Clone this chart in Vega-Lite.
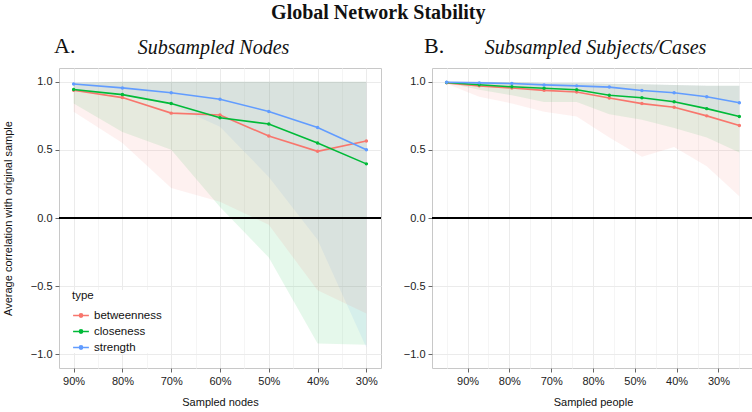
{
  "$schema": "https://vega.github.io/schema/vega-lite/v6.json",
  "padding": {"top": 2, "left": 1, "right": 0, "bottom": 0},
  "background": "white",
  "config": {
    "view": {"stroke": "#C8C8C8", "strokeWidth": 1},
    "axis": {
      "labelFont": "Liberation Sans", "labelFontSize": 11, "labelColor": "#222",
      "titleFont": "Liberation Sans", "titleFontSize": 11, "titleFontWeight": "normal", "titleColor": "#111",
      "tickColor": "#666", "tickSize": 4, "domain": false, "gridColor": "#EBEBEB", "gridWidth": 1, "labelPadding": 3
    },
    "concat": {"spacing": 18}
  },
  "title": {"text": "Global Network Stability", "font": "Liberation Serif", "fontSize": 20, "fontWeight": "bold", "color": "#111", "anchor": "middle", "offset": 12},
  "datasets": {
    "nodes": [
      {"type": "betweenness", "x": 90, "y": 0.937, "lo": 0.78, "hi": 0.99},
      {"type": "betweenness", "x": 80, "y": 0.883, "lo": 0.55, "hi": 1.0},
      {"type": "betweenness", "x": 70, "y": 0.769, "lo": 0.22, "hi": 1.0},
      {"type": "betweenness", "x": 60, "y": 0.755, "lo": 0.12, "hi": 1.0},
      {"type": "betweenness", "x": 50, "y": 0.601, "lo": -0.05, "hi": 1.0},
      {"type": "betweenness", "x": 40, "y": 0.489, "lo": -0.53, "hi": 1.0},
      {"type": "betweenness", "x": 30, "y": 0.565, "lo": -0.70, "hi": 1.0},
      {"type": "closeness", "x": 90, "y": 0.942, "lo": 0.84, "hi": 0.99},
      {"type": "closeness", "x": 80, "y": 0.905, "lo": 0.63, "hi": 1.0},
      {"type": "closeness", "x": 70, "y": 0.839, "lo": 0.50, "hi": 1.0},
      {"type": "closeness", "x": 60, "y": 0.735, "lo": 0.08, "hi": 1.0},
      {"type": "closeness", "x": 50, "y": 0.689, "lo": -0.29, "hi": 1.0},
      {"type": "closeness", "x": 40, "y": 0.550, "lo": -0.92, "hi": 1.0},
      {"type": "closeness", "x": 30, "y": 0.397, "lo": -0.93, "hi": 1.0},
      {"type": "strength", "x": 90, "y": 0.983, "lo": 0.93, "hi": 0.995},
      {"type": "strength", "x": 80, "y": 0.954, "lo": 0.90, "hi": 1.0},
      {"type": "strength", "x": 70, "y": 0.918, "lo": 0.83, "hi": 1.0},
      {"type": "strength", "x": 60, "y": 0.871, "lo": 0.67, "hi": 1.0},
      {"type": "strength", "x": 50, "y": 0.781, "lo": 0.30, "hi": 1.0},
      {"type": "strength", "x": 40, "y": 0.664, "lo": -0.16, "hi": 1.0},
      {"type": "strength", "x": 30, "y": 0.501, "lo": -0.95, "hi": 1.0}
    ],
    "people": [
      {"type": "betweenness", "x": 95, "y": 0.991, "lo": 0.985, "hi": 1.0},
      {"type": "betweenness", "x": 87.2, "y": 0.969, "lo": 0.89, "hi": 1.0},
      {"type": "betweenness", "x": 79.4, "y": 0.953, "lo": 0.84, "hi": 0.995},
      {"type": "betweenness", "x": 71.7, "y": 0.936, "lo": 0.78, "hi": 0.99},
      {"type": "betweenness", "x": 63.9, "y": 0.924, "lo": 0.745, "hi": 0.99},
      {"type": "betweenness", "x": 56.1, "y": 0.880, "lo": 0.59, "hi": 0.985},
      {"type": "betweenness", "x": 48.3, "y": 0.839, "lo": 0.45, "hi": 0.98},
      {"type": "betweenness", "x": 40.6, "y": 0.812, "lo": 0.52, "hi": 0.975},
      {"type": "betweenness", "x": 32.8, "y": 0.749, "lo": 0.38, "hi": 0.97},
      {"type": "betweenness", "x": 25, "y": 0.679, "lo": 0.16, "hi": 0.97},
      {"type": "closeness", "x": 95, "y": 0.994, "lo": 0.99, "hi": 1.0},
      {"type": "closeness", "x": 87.2, "y": 0.977, "lo": 0.94, "hi": 1.0},
      {"type": "closeness", "x": 79.4, "y": 0.962, "lo": 0.90, "hi": 0.995},
      {"type": "closeness", "x": 71.7, "y": 0.951, "lo": 0.85, "hi": 0.99},
      {"type": "closeness", "x": 63.9, "y": 0.940, "lo": 0.85, "hi": 0.99},
      {"type": "closeness", "x": 56.1, "y": 0.900, "lo": 0.76, "hi": 0.985},
      {"type": "closeness", "x": 48.3, "y": 0.882, "lo": 0.72, "hi": 0.98},
      {"type": "closeness", "x": 40.6, "y": 0.853, "lo": 0.66, "hi": 0.975},
      {"type": "closeness", "x": 32.8, "y": 0.802, "lo": 0.59, "hi": 0.97},
      {"type": "closeness", "x": 25, "y": 0.744, "lo": 0.48, "hi": 0.97},
      {"type": "strength", "x": 95, "y": 0.996, "lo": 0.995, "hi": 1.0},
      {"type": "strength", "x": 87.2, "y": 0.991, "lo": 0.97, "hi": 1.0},
      {"type": "strength", "x": 79.4, "y": 0.986, "lo": 0.96, "hi": 0.995},
      {"type": "strength", "x": 71.7, "y": 0.976, "lo": 0.94, "hi": 0.99},
      {"type": "strength", "x": 63.9, "y": 0.969, "lo": 0.93, "hi": 0.99},
      {"type": "strength", "x": 56.1, "y": 0.960, "lo": 0.90, "hi": 0.985},
      {"type": "strength", "x": 48.3, "y": 0.935, "lo": 0.87, "hi": 0.98},
      {"type": "strength", "x": 40.6, "y": 0.918, "lo": 0.84, "hi": 0.975},
      {"type": "strength", "x": 32.8, "y": 0.889, "lo": 0.80, "hi": 0.97},
      {"type": "strength", "x": 25, "y": 0.845, "lo": 0.74, "hi": 0.97}
    ]
  },
  "hconcat": [
    {
      "width": 322, "height": 300,
      "title": {"text": "A.", "anchor": "start", "frame": "group", "dx": -5, "offset": -21,
        "font": "Liberation Serif", "fontSize": 22, "fontWeight": "normal", "color": "#111"},
      "data": {"name": "nodes"},
      "resolve": {"axis": {"x": "independent"}},
      "layer": [
        {
          "transform": [{"filter": "datum.type == 'strength'"}],
          "mark": {"type": "area", "fillOpacity": 0.1},
          "encoding": {
            "x": {"field": "x", "type": "quantitative", "scale": {"domain": [27, 93], "reverse": true, "nice": false, "zero": false},
              "axis": {"values": [90, 85, 80, 75, 70, 65, 60, 55, 50, 45, 40, 35, 30], "labelExpr": "datum.value % 10 == 0 ? datum.value + '%' : ''", "labelOverlap": false,
                "tickOpacity": {"condition": {"test": "datum.value % 10 != 0", "value": 0}, "value": 1},
                "gridColor": {"condition": {"test": "datum.value % 10 != 0", "value": "#F5F5F5"}, "value": "#EBEBEB"},
                "title": "Sampled nodes", "titlePadding": 10}},
            "y": {"field": "lo", "type": "quantitative", "scale": {"domain": [-1.1, 1.1], "nice": false, "zero": false},
              "axis": {"values": [-1, -0.75, -0.5, -0.25, 0, 0.25, 0.5, 0.75, 1], "format": ".1f",
                "labelExpr": "abs(datum.value*2-round(datum.value*2)) < 0.01 ? datum.label : ''",
                "tickOpacity": {"condition": {"test": "abs(datum.value*2-round(datum.value*2)) > 0.01", "value": 0}, "value": 1},
                "gridColor": {"condition": {"test": "abs(datum.value*2-round(datum.value*2)) > 0.01", "value": "#F5F5F5"}, "value": "#EBEBEB"},
                "title": "Average correlation with original sample", "titlePadding": 16, "minExtent": 30, "maxExtent": 30}},
            "y2": {"field": "hi"},
            "color": {"field": "type", "type": "nominal", "scale": {"domain": ["betweenness", "closeness", "strength"], "range": ["#F8766D", "#00BA38", "#619CFF"]}}
          }
        },
        {
          "transform": [{"filter": "datum.type == 'closeness'"}],
          "mark": {"type": "area", "fillOpacity": 0.1},
          "encoding": {
            "x": {"field": "x", "type": "quantitative", "scale": {"domain": [27, 93], "reverse": true, "nice": false, "zero": false}, "axis": null},
            "y": {"field": "lo", "type": "quantitative", "scale": {"domain": [-1.1, 1.1], "nice": false, "zero": false}},
            "y2": {"field": "hi"},
            "color": {"field": "type", "type": "nominal", "scale": {"domain": ["betweenness", "closeness", "strength"], "range": ["#F8766D", "#00BA38", "#619CFF"]}}
          }
        },
        {
          "transform": [{"filter": "datum.type == 'betweenness'"}],
          "mark": {"type": "area", "fillOpacity": 0.1},
          "encoding": {
            "x": {"field": "x", "type": "quantitative", "scale": {"domain": [27, 93], "reverse": true, "nice": false, "zero": false}, "axis": null},
            "y": {"field": "lo", "type": "quantitative", "scale": {"domain": [-1.1, 1.1], "nice": false, "zero": false}},
            "y2": {"field": "hi"},
            "color": {"field": "type", "type": "nominal", "scale": {"domain": ["betweenness", "closeness", "strength"], "range": ["#F8766D", "#00BA38", "#619CFF"]}}
          }
        },
        {
          "mark": {"type": "rule", "color": "black", "strokeWidth": 1.2},
          "encoding": {"y": {"datum": 0, "type": "quantitative", "scale": {"domain": [-1.1, 1.1], "nice": false, "zero": false}}}
        },
        {
          "mark": {"type": "line", "strokeWidth": 1.6},
          "encoding": {
            "x": {"field": "x", "type": "quantitative", "scale": {"domain": [27, 93], "reverse": true, "nice": false, "zero": false}, "axis": null},
            "y": {"field": "y", "type": "quantitative", "scale": {"domain": [-1.1, 1.1], "nice": false, "zero": false}},
            "color": {"field": "type", "type": "nominal", "scale": {"domain": ["betweenness", "closeness", "strength"], "range": ["#F8766D", "#00BA38", "#619CFF"]},
              "legend": {"orient": "none", "legendX": 13, "legendY": 222, "title": "type", "titleFont": "Liberation Sans", "titleFontSize": 11.5, "titleFontWeight": "normal", "titleColor": "#111",
                "labelFont": "Liberation Sans", "labelFontSize": 11.5, "labelColor": "#111",
                "symbolType": "M-1,0L1,0M-0.2,0A0.2,0.2 0 1,1 0.2,0A0.2,0.2 0 1,1 -0.2,0", "symbolSize": 250, "symbolStrokeWidth": 1.6, "symbolOpacity": 1, "symbolFillColor": "transparent", "rowPadding": 1, "fillColor": "white"}}
          }
        },
        {
          "mark": {"type": "point", "filled": true, "size": 12, "opacity": 1},
          "encoding": {
            "x": {"field": "x", "type": "quantitative", "scale": {"domain": [27, 93], "reverse": true, "nice": false, "zero": false},
              "axis": {"orient": "top", "labels": false, "ticks": false, "grid": false, "domain": false, "minExtent": 0, "maxExtent": 0,
                "title": "Subsampled Nodes", "titleFont": "Liberation Serif", "titleFontStyle": "italic", "titleFontSize": 20, "titleColor": "#111",
                "titleBaseline": "alphabetic", "titlePadding": 15, "titleX": 154, "titleAlign": "center"}},
            "y": {"field": "y", "type": "quantitative", "scale": {"domain": [-1.1, 1.1], "nice": false, "zero": false}},
            "color": {"field": "type", "type": "nominal", "scale": {"domain": ["betweenness", "closeness", "strength"], "range": ["#F8766D", "#00BA38", "#619CFF"]}}
          }
        }
      ]
    },
    {
      "width": 322, "height": 300,
      "title": {"text": "B.", "anchor": "start", "frame": "group", "dx": -8, "offset": -21,
        "font": "Liberation Serif", "fontSize": 22, "fontWeight": "normal", "color": "#111"},
      "data": {"name": "people"},
      "resolve": {"axis": {"x": "independent"}},
      "layer": [
        {
          "transform": [{"filter": "datum.type == 'strength'"}],
          "mark": {"type": "area", "fillOpacity": 0.1},
          "encoding": {
            "x": {"field": "x", "type": "quantitative", "scale": {"domain": [21.5, 98.5], "reverse": true, "nice": false, "zero": false},
              "axis": {"values": [95, 90, 85, 80, 75, 70, 65, 60, 55, 50, 45, 40, 35, 30, 25], "labelExpr": "datum.value == 60 ? '80%' : (datum.value % 10 == 0 ? datum.value + '%' : '')", "labelOverlap": false,
                "tickOpacity": {"condition": {"test": "datum.value % 10 != 0", "value": 0}, "value": 1},
                "gridColor": {"condition": {"test": "datum.value % 10 != 0", "value": "#F5F5F5"}, "value": "#EBEBEB"},
                "title": "Sampled people", "titlePadding": 10}},
            "y": {"field": "lo", "type": "quantitative", "scale": {"domain": [-1.1, 1.1], "nice": false, "zero": false},
              "axis": {"values": [-1, -0.75, -0.5, -0.25, 0, 0.25, 0.5, 0.75, 1], "format": ".1f",
                "labelExpr": "abs(datum.value*2-round(datum.value*2)) < 0.01 ? datum.label : ''",
                "tickOpacity": {"condition": {"test": "abs(datum.value*2-round(datum.value*2)) > 0.01", "value": 0}, "value": 1},
                "gridColor": {"condition": {"test": "abs(datum.value*2-round(datum.value*2)) > 0.01", "value": "#F5F5F5"}, "value": "#EBEBEB"},
                "title": null, "minExtent": 30, "maxExtent": 30}},
            "y2": {"field": "hi"},
            "color": {"field": "type", "type": "nominal", "scale": {"domain": ["betweenness", "closeness", "strength"], "range": ["#F8766D", "#00BA38", "#619CFF"]}, "legend": null}
          }
        },
        {
          "transform": [{"filter": "datum.type == 'closeness'"}],
          "mark": {"type": "area", "fillOpacity": 0.1},
          "encoding": {
            "x": {"field": "x", "type": "quantitative", "scale": {"domain": [21.5, 98.5], "reverse": true, "nice": false, "zero": false}, "axis": null},
            "y": {"field": "lo", "type": "quantitative", "scale": {"domain": [-1.1, 1.1], "nice": false, "zero": false}},
            "y2": {"field": "hi"},
            "color": {"field": "type", "type": "nominal", "scale": {"domain": ["betweenness", "closeness", "strength"], "range": ["#F8766D", "#00BA38", "#619CFF"]}, "legend": null}
          }
        },
        {
          "transform": [{"filter": "datum.type == 'betweenness'"}],
          "mark": {"type": "area", "fillOpacity": 0.1},
          "encoding": {
            "x": {"field": "x", "type": "quantitative", "scale": {"domain": [21.5, 98.5], "reverse": true, "nice": false, "zero": false}, "axis": null},
            "y": {"field": "lo", "type": "quantitative", "scale": {"domain": [-1.1, 1.1], "nice": false, "zero": false}},
            "y2": {"field": "hi"},
            "color": {"field": "type", "type": "nominal", "scale": {"domain": ["betweenness", "closeness", "strength"], "range": ["#F8766D", "#00BA38", "#619CFF"]}, "legend": null}
          }
        },
        {
          "mark": {"type": "rule", "color": "black", "strokeWidth": 1.2},
          "encoding": {"y": {"datum": 0, "type": "quantitative", "scale": {"domain": [-1.1, 1.1], "nice": false, "zero": false}}}
        },
        {
          "mark": {"type": "line", "strokeWidth": 1.6},
          "encoding": {
            "x": {"field": "x", "type": "quantitative", "scale": {"domain": [21.5, 98.5], "reverse": true, "nice": false, "zero": false}, "axis": null},
            "y": {"field": "y", "type": "quantitative", "scale": {"domain": [-1.1, 1.1], "nice": false, "zero": false}},
            "color": {"field": "type", "type": "nominal", "scale": {"domain": ["betweenness", "closeness", "strength"], "range": ["#F8766D", "#00BA38", "#619CFF"]}, "legend": null}
          }
        },
        {
          "mark": {"type": "point", "filled": true, "size": 12, "opacity": 1},
          "encoding": {
            "x": {"field": "x", "type": "quantitative", "scale": {"domain": [21.5, 98.5], "reverse": true, "nice": false, "zero": false},
              "axis": {"orient": "top", "labels": false, "ticks": false, "grid": false, "domain": false, "minExtent": 0, "maxExtent": 0,
                "title": "Subsampled Subjects/Cases", "titleFont": "Liberation Serif", "titleFontStyle": "italic", "titleFontSize": 20, "titleColor": "#111",
                "titleBaseline": "alphabetic", "titlePadding": 15, "titleX": 163, "titleAlign": "center"}},
            "y": {"field": "y", "type": "quantitative", "scale": {"domain": [-1.1, 1.1], "nice": false, "zero": false}},
            "color": {"field": "type", "type": "nominal", "scale": {"domain": ["betweenness", "closeness", "strength"], "range": ["#F8766D", "#00BA38", "#619CFF"]}, "legend": null}
          }
        }
      ]
    }
  ]
}
